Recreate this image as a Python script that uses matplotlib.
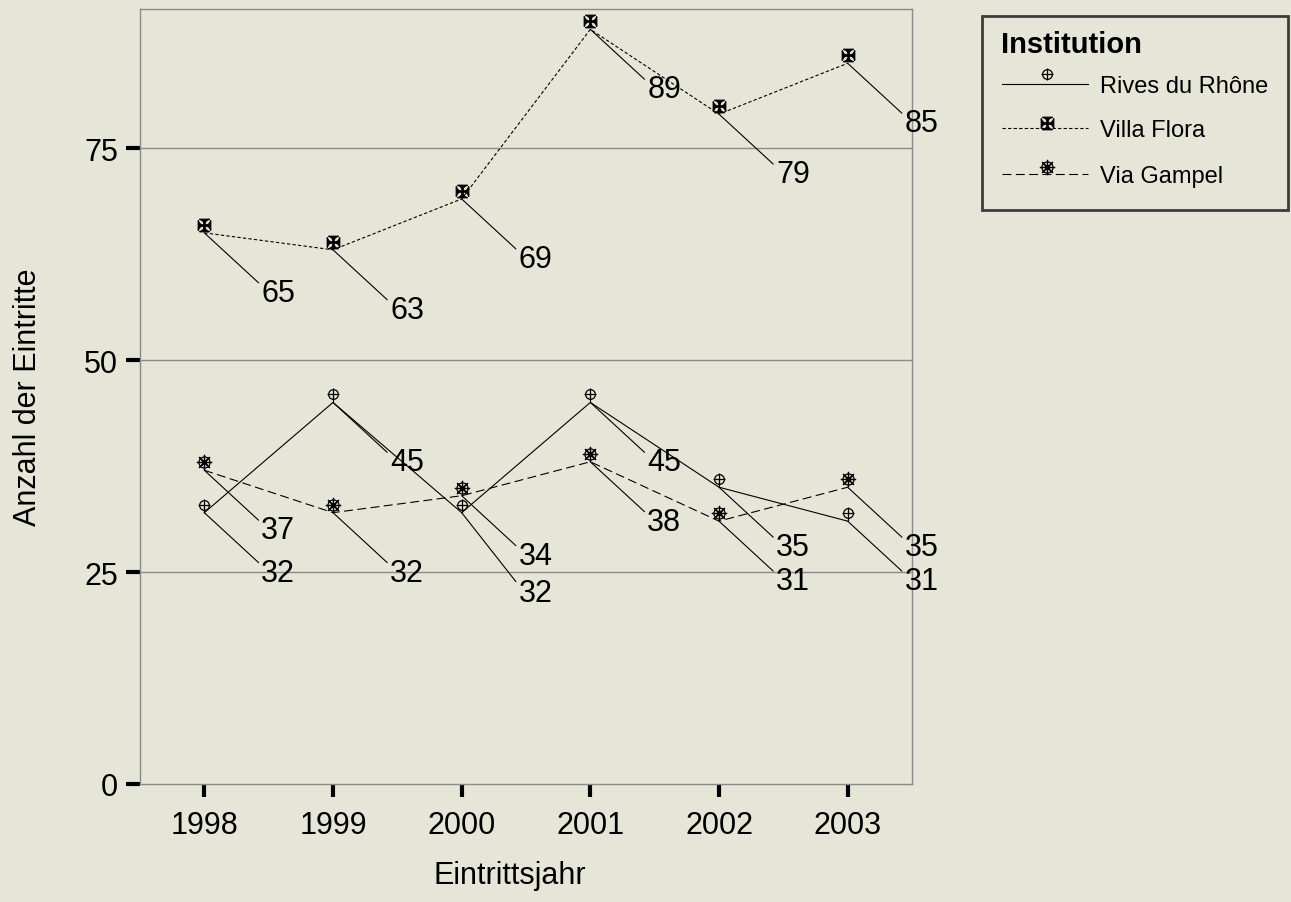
import numpy as np
import matplotlib
matplotlib.use("Agg")
import matplotlib.pyplot as plt
import matplotlib.transforms as mtransforms
from matplotlib.patches import Rectangle
from matplotlib.lines import Line2D

# data
years = [1998, 1999, 2000, 2001, 2002, 2003]
institutions = ["Rives du Rhône", "Villa Flora", "Via Gampel"]
rives = [32, 45, 32, 45, 35, 31]
villa = [65, 63, 69, 89, 79, 85]
gampel = [37, 32, 34, 38, 31, 35]
y_ticks = [0, 25, 50, 75]

plt.rcParams["font.family"] = ["Liberation Sans", "DejaVu Sans"]

BG = "#e6e6d8"
SPINE = "#8a8a8a"

fig = plt.figure(figsize=(12.91, 9.03), dpi=100, facecolor=BG)
ax = fig.add_axes([140 / 1291, 118 / 903, 772 / 1291, 775 / 903], facecolor=BG)

# each marker is a list of (marker, size, face) layers
styles = {
    "Rives du Rhône": dict(ls="-", layers=[("o", 7, "none"), ("+", 8, "none")]),
    "Villa Flora": dict(ls=(0, (3, 2)), layers=[("$\u2720$", 9, "black")]),
    "Via Gampel": dict(ls=(0, (8, 4)), layers=[("o", 8, "none"), ((8, 2, 0), 11, "none")]),
}
series = {"Rives du Rhône": rives, "Villa Flora": villa, "Via Gampel": gampel}


def draw_marker(target, xs, ys, layers, **kw):
    for m, s, face in layers:
        target.plot(xs, ys, ls="none", marker=m, ms=s, mfc=face, mec="black",
                    mew=0.9, color="black", **kw)


# markers sit a little above the line vertex in the original
mark_trans = mtransforms.offset_copy(ax.transData, fig=fig, x=0, y=8, units="dots")
stem_trans = mtransforms.offset_copy(ax.transData, fig=fig, x=0, y=3, units="dots")

for name in institutions:
    vals = series[name]
    st = styles[name]
    ax.plot(years, vals, color="black", lw=0.8, ls=st["ls"], zorder=3)
    draw_marker(ax, years, vals, st["layers"], transform=mark_trans, zorder=4)
    if name == "Rives du Rhône":
        ax.plot(years, vals, ls="none", marker="|", ms=5, mew=0.8, color="black",
                transform=stem_trans, zorder=4)

# value labels with leader lines
extra = {("Rives du Rhône", 2): -20}
for name in institutions:
    for i, (yr, v) in enumerate(zip(years, series[name])):
        dy = -60 + extra.get((name, i), 0)
        ax.annotate(str(v), xy=(yr, v), xytext=(57 * 0.72, dy * 0.72),
                    textcoords="offset points", ha="left", va="center",
                    fontsize=22, color="black", zorder=5,
                    arrowprops=dict(arrowstyle="-", color="black", lw=0.8,
                                    shrinkA=0, shrinkB=0, relpos=(0, 0.75)))

ax.set_xlim(1997.5, 2003.5)
ax.set_ylim(0, 91.4)
ax.set_xticks(years)
ax.set_xticklabels([str(y) for y in years])
ax.set_yticks(y_ticks)
ax.set_yticklabels([str(t) for t in y_ticks])
for t in y_ticks[1:]:
    ax.axhline(t, color=SPINE, lw=1, zorder=1)

for sp in ax.spines.values():
    sp.set_color(SPINE)
    sp.set_linewidth(1)

ax.tick_params(axis="y", direction="out", length=10, width=3, color="black",
               labelsize=22, pad=6)
ax.tick_params(axis="x", direction="out", length=9, width=3, color="black",
               labelsize=22, pad=10)

ax.set_ylabel("Anzahl der Eintritte", fontsize=22)
ax.yaxis.set_label_coords(-0.145, 0.50)
ax.yaxis.label.set_va("center")
ax.set_xlabel("Eintrittsjahr", fontsize=22)
ax.xaxis.set_label_coords(0.479, -0.117)
ax.xaxis.label.set_va("center")

# legend box, drawn in pixel coordinates of the figure
def px(x, y):
    return x / 1291, 1 - y / 903

lx0, ly0 = px(982, 211)
lx1, ly1 = px(1288, 17)
fig.add_artist(Rectangle((lx0, ly0), lx1 - lx0, ly1 - ly0, transform=fig.transFigure,
                         facecolor="none", edgecolor="#3c3c3c", lw=2))
tx, ty = px(1001, 45)
fig.text(tx, ty, "Institution", fontsize=21, fontweight="bold", va="center", ha="left")
rows = [85, 129, 175]
mark_dy = [10, 5, 7]
for name, ry, mdy in zip(institutions, rows, mark_dy):
    st = styles[name]
    xa, ya = px(1002, ry)
    xb, _ = px(1088, ry)
    fig.add_artist(Line2D([xa, xb], [ya, ya], transform=fig.transFigure,
                          color="black", lw=0.8, ls=st["ls"]))
    xm, ym = px(1047, ry - mdy)
    for m, s, face in st["layers"]:
        fig.add_artist(Line2D([xm], [ym], transform=fig.transFigure, ls="none",
                              marker=m, ms=s, mfc=face, mec="black", mew=0.9))
    xt, yt = px(1100, ry + 2)
    fig.text(xt, yt, name, fontsize=17, va="center", ha="left")

fig.savefig("out.png", dpi=100, facecolor=BG)
